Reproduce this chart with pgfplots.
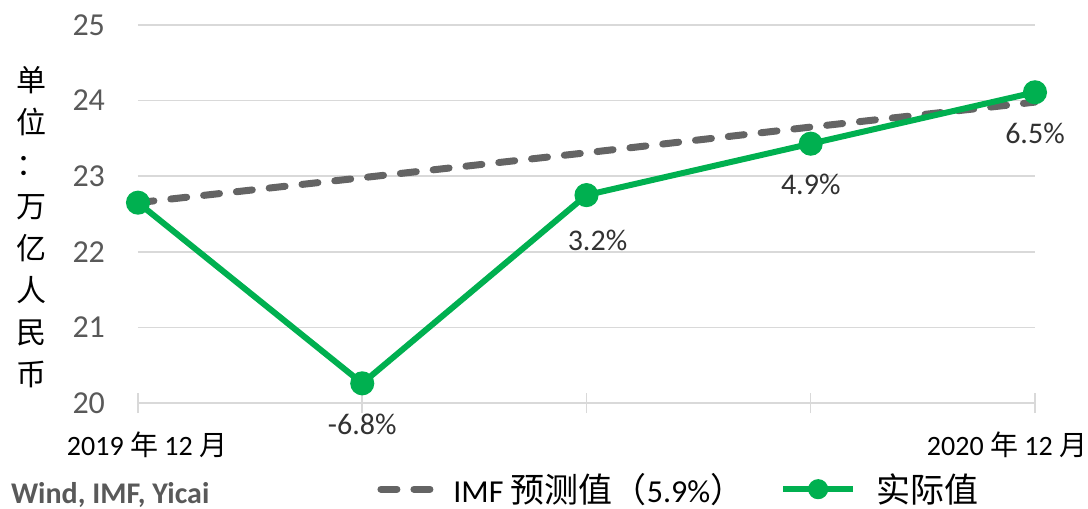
\documentclass[border=0pt]{standalone}
\usepackage{pgfplots}
\pgfplotsset{compat=1.18}
\usepackage{pgfplotstable}
\usepackage{fontspec}
\setmainfont{Carlito}
\newfontfamily\cjk{Noto Sans CJK SC}
\newcommand{\lcjk}[1]{{\cjk\fontsize{17bp}{18bp}\selectfont #1}}
\definecolor{grn}{RGB}{0,176,80}
\definecolor{dashgray}{RGB}{100,100,100}
\definecolor{gridgray}{RGB}{217,217,217}
\definecolor{tickgray}{RGB}{89,89,89}
\definecolor{labgray}{RGB}{50,50,50}

\pgfplotsset{
  imfleg/.style={legend image code/.code={\draw[##1] (0bp,0bp) -- (24.5bp,0bp);}},
  actleg/.style={legend image code/.code={\draw[##1, mark size=3.5bp, mark repeat=2, mark phase=2] plot coordinates {(0bp,0bp) (17.5bp,0bp) (35bp,0bp)};}},
}

\pgfplotstableread{
x y
0 22.65
1 20.26
2 22.75
3 23.43
4 24.11
}\actual
\pgfplotstableread{
x y
0 22.65
1 22.98
2 23.31
3 23.65
4 23.98
}\imf
\pgfplotstableread{
x y lab
1 20.26 -6.8
3 23.43 4.9
4 24.11 6.5
}\labelsA
\pgfplotstableread{
x y lab
2 22.75 3.2
}\labelsB

\begin{document}
\begin{tikzpicture}
\begin{axis}[name=ax, scale only axis, width=448.5bp, height=189bp,
  xmin=0, xmax=4, ymin=20, ymax=25,
  xtick={0,1,2,3,4}, ytick={20,21,22,23,24,25},
  xticklabels={{\hspace*{9bp}2019 {\cjk 年} 12 {\cjk 月}},{},{},{},{2020 {\cjk 年} 12 {\cjk 月}\hspace*{28bp}}},
  axis x line*=bottom, axis y line*=left,
  y axis line style={draw=none},
  x axis line style={draw=gridgray, line width=0.75bp},
  ymajorgrids, grid style={gridgray, line width=0.75bp},
  tick align=center, major tick length=10bp,
  x tick style={draw=gridgray, line width=0.75bp},
  y tick style={draw=none},
  /pgf/number format/assume math mode=true,
  yticklabel style={font=\fontsize{16bp}{18bp}\selectfont, text=tickgray, xshift=-8bp},
  xticklabel style={font=\fontsize{14bp}{16bp}\selectfont, text=black, yshift=-6bp},
  clip=false,
  legend style={at={(0.2665,-0.228)}, anchor=west, draw=none, fill=none,
    font=\fontsize{16bp}{18bp}\selectfont, inner sep=0pt,
    /tikz/every odd column/.append style={column sep=8bp},
    /tikz/every even column/.append style={column sep=16bp}},
  legend columns=2, legend cell align=left,
]
\addplot[dashgray, line width=3.5bp, dash pattern=on 8bp off 8.5bp, line cap=round, no markers, imfleg] table {\imf};
\addlegendentry{IMF \lcjk{预测值（}5.9\%\lcjk{）}}
\addplot[grn, line width=3bp, mark=*, mark size=4.5bp, mark options={fill=grn, draw=grn, solid}, actleg] table {\actual};
\addlegendentry{\lcjk{实际值}}
\addplot[draw=none, no markers, forget plot, point meta=explicit symbolic,
  nodes near coords={\pgfplotspointmeta\%},
  every node near coord/.append style={anchor=center, yshift=-20.5bp,
    font=\fontsize{15bp}{18bp}\selectfont, text=labgray}] table[meta=lab] {\labelsA};
\addplot[draw=none, no markers, forget plot, point meta=explicit symbolic,
  nodes near coords={\pgfplotspointmeta\%},
  every node near coord/.append style={anchor=center, xshift=5.5bp, yshift=-22.5bp,
    font=\fontsize{15bp}{18bp}\selectfont, text=labgray}] table[meta=lab] {\labelsB};
\end{axis}
\node[anchor=west, font=\bfseries\fontsize{15bp}{17bp}\selectfont, text=tickgray] at ([xshift=-67bp,yshift=-46bp]ax.south west) {Wind, IMF, Yicai};
\node[align=center, font=\cjk\fontsize{15bp}{21bp}\selectfont] at ([xshift=-53bp,yshift=87.75bp]ax.south west) {单\\位\\：\\万\\亿\\人\\民\\币};
\pgfresetboundingbox
\path ([xshift=-69bp,yshift=-53bp]ax.south west) rectangle ([xshift=475bp,yshift=201.5bp]ax.south west);
\end{tikzpicture}
\end{document}
